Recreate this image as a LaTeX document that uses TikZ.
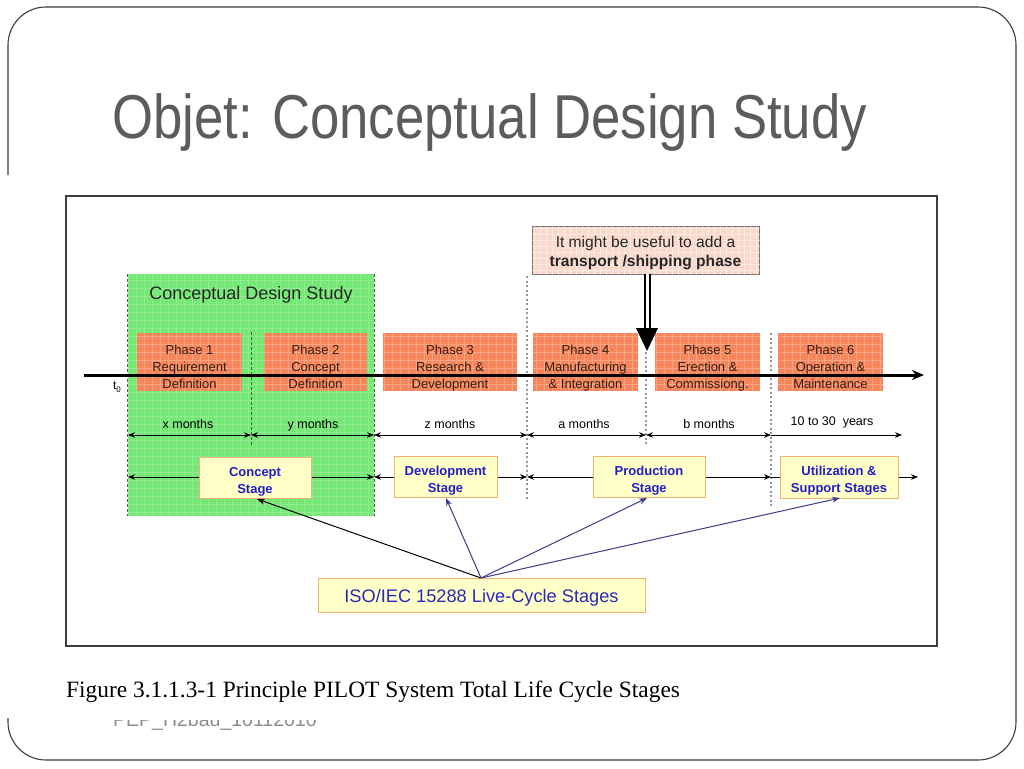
\documentclass[tikz,border=0pt]{standalone}
\usepackage{fontspec}
\setmainfont{Liberation Sans}
\newfontfamily\seriffont{Liberation Serif}
\usetikzlibrary{arrows.meta}
\definecolor{framecol}{RGB}{60,60,60}
\definecolor{titlegray}{RGB}{92,92,92}
\definecolor{footgray}{RGB}{140,140,140}
\definecolor{cdsgreen}{RGB}{118,232,118}
\definecolor{greendash}{RGB}{80,100,60}
\definecolor{phaseorange}{RGB}{247,134,92}
\definecolor{phasetext}{RGB}{50,30,20}
\definecolor{yel}{RGB}{255,255,200}
\definecolor{yelborder}{RGB}{245,175,110}
\definecolor{pinkbox}{RGB}{250,216,204}
\definecolor{pinkborder}{RGB}{120,110,110}
\definecolor{stageblue}{RGB}{35,30,200}
\definecolor{isoblue}{RGB}{40,40,190}
\definecolor{isoarrow}{RGB}{60,60,140}
\definecolor{dotgray}{RGB}{150,150,150}
\tikzset{
  phasebox/.style={fill=phaseorange, draw=none, minimum width=#1, minimum height=58pt, inner sep=0pt},
  phaselbl/.style={align=center, inner sep=0pt, anchor=base, font=\fontsize{13}{17}\selectfont, text=phasetext},
  stagebox/.style={fill=yel, draw=yelborder, line width=1pt, minimum width=#1, minimum height=41pt, inner sep=0pt},
  stagelbl/.style={align=center, inner sep=0pt, anchor=base, font=\bfseries\fontsize{13}{17}\selectfont, text=stageblue},
  monthlbl/.style={font=\fontsize{12.5}{15}\selectfont, inner sep=0pt, anchor=base},
  dimarrow/.style={{Stealth[length=7pt,width=5.5pt]}-{Stealth[length=7pt,width=5.5pt]}, line width=0.9pt},
  onearrow/.style={-{Stealth[length=7pt,width=5.5pt]}, line width=0.9pt},
  gridw/.style={white, opacity=0.2, line width=0.5pt},
  dotline/.style={dotgray, line width=1.3pt, dash pattern=on 2pt off 2.5pt},
  darkdash/.style={greendash, line width=1pt, dash pattern=on 3pt off 2pt},
  isoline/.style={-{Stealth[length=8pt,width=6pt]}, line width=1pt, isoarrow},
}
\begin{document}
\begin{tikzpicture}[x=1pt,y=-1pt]
\useasboundingbox (0,0) rectangle (1024,768);
\fill[white] (0,0) rectangle (1024,768);
% slide frame
\draw[framecol, line width=1.1pt, rounded corners=38pt] (8,175) -- (8,7) -- (1016,7) -- (1016,760) -- (8,760) -- (8,718);
% title
\node[anchor=base west, inner sep=0pt, text=titlegray, font=\fontsize{62}{70}\selectfont] (title) at (112,138)
  {\scalebox{0.85}[1]{Objet: Conceptual Design Study}};
% footer (partly hidden by the figure)
\node[anchor=base west, inner sep=0pt, text=footgray, font=\fontsize{19.5}{22}\selectfont] (foot) at (113,726.5) {PEP\_H2bau\_10112010};
\fill[white] (40,180) rectangle (1000,719.5);
% caption
\node[anchor=base west, inner sep=0pt, font=\seriffont\fontsize{23.4}{26}\selectfont] (cap) at (66,697)
  {Figure 3.1.1.3-1 Principle PILOT System Total Life Cycle Stages};
% figure border
\node[draw=framecol, line width=1.6pt, minimum width=871pt, minimum height=450pt, inner sep=0pt] (fig) at (501.5,421) {};
% green region
\node[fill=cdsgreen, minimum width=246pt, minimum height=242pt, inner sep=0pt] (cds) at (251,395) {};
\draw[gridw] (cds.north west) grid[step=8pt] (cds.south east);
\draw[darkdash] (cds.north west) -- (cds.south west);
\draw[darkdash] (cds.north east) -- (cds.south east);
\node[anchor=base, inner sep=0pt, font=\fontsize{18}{20}\selectfont, text=black!85] (cdslbl) at (251,299) {Conceptual Design Study};
% vertical separators
\coordinate (v1a) at (251,332); \coordinate (v1b) at (251,445);
\coordinate (v3a) at (527,276); \coordinate (v3b) at (527,500);
\coordinate (v4a) at (646,352); \coordinate (v4b) at (646,445);
\coordinate (v5a) at (771,333); \coordinate (v5b) at (771,507);
\draw[darkdash] (v1a) -- (v1b);
\draw[dotline] (v3a) -- (v3b);
\draw[dotline] (v4a) -- (v4b);
\draw[dotline] (v5a) -- (v5b);
% phases
\node[phasebox=105pt] (p1) at (189.5,362) {};
\node[phasebox=103pt] (p2) at (315.5,362) {};
\node[phasebox=134pt] (p3) at (450,362) {};
\node[phasebox=105pt] (p4) at (585.5,362) {};
\node[phasebox=105pt] (p5) at (707.5,362) {};
\node[phasebox=105pt] (p6) at (830.5,362) {};
\foreach \n in {p1,p2,p3,p4,p5,p6} {\draw[gridw, opacity=0.25] (\n.north west) grid[step=8pt] (\n.south east);}
\node[phaselbl] (p1t) at (189.5,388.5) {Phase 1\\Requirement\\Definition};
\node[phaselbl] (p2t) at (315.5,388.5) {Phase 2\\Concept\\Definition};
\node[phaselbl] (p3t) at (450,388.5) {Phase 3\\Research \&\\Development};
\node[phaselbl] (p4t) at (585.5,388.5) {Phase 4\\Manufacturing\\\& Integration};
\node[phaselbl] (p5t) at (707.5,388.5) {Phase 5\\Erection \&\\Commissiong.};
\node[phaselbl] (p6t) at (830.5,388.5) {Phase 6\\Operation \&\\Maintenance};
% time axis
\coordinate (ax0) at (84,375); \coordinate (ax1) at (924,375);
\draw[line width=3pt, -{Stealth[length=12pt,width=10pt]}] (ax0) -- (ax1);
\node[font=\fontsize{12}{14}\selectfont] (t0) at (117,387) {t\raisebox{-2.5pt}{\fontsize{8}{9}\selectfont 0}};
% durations
\coordinate (d0) at (128,435); \coordinate (d1) at (251,435); \coordinate (d2) at (374,435);
\coordinate (d3) at (527,435); \coordinate (d4) at (646,435); \coordinate (d5) at (771,435);
\coordinate (d6) at (902,435);
\draw[dimarrow] (d0) -- (d1);
\draw[dimarrow] (d1) -- (d2);
\draw[dimarrow] (d2) -- (d3);
\draw[dimarrow] (d3) -- (d4);
\draw[dimarrow] (d4) -- (d5);
\draw[onearrow] (d5) -- (d6);
\node[monthlbl] (mx) at (188,428.5) {x months};
\node[monthlbl] (my) at (313,428.5) {y months};
\node[monthlbl] (mz) at (450,428.5) {z months};
\node[monthlbl] (ma) at (584,428.5) {a months};
\node[monthlbl] (mb) at (709,428.5) {b months};
\node[monthlbl] (myr) at (832,425.5) {10 to 30\ \ years};
% stages
\coordinate (s0) at (128,477); \coordinate (s2) at (374,477); \coordinate (s3) at (527,477);
\coordinate (s5) at (771,477); \coordinate (s6) at (918,477);
\draw[dimarrow] (s0) -- (s2);
\draw[dimarrow] (s2) -- (s3);
\draw[dimarrow] (s3) -- (s5);
\draw[onearrow] (s5) -- (s6);
\node[stagebox=112pt] (cs) at (255,478) {};
\node[stagebox=103pt] (ds) at (445.5,476.5) {};
\node[stagebox=112pt] (ps) at (649,476.5) {};
\node[stagebox=118pt, minimum height=42pt] (us) at (839,477) {};
\node[stagelbl] (cst) at (255,493) {Concept\\Stage};
\node[stagelbl] (dst) at (445.5,492) {Development\\Stage};
\node[stagelbl] (pst) at (649,492) {Production\\Stage};
\node[stagelbl] (ust) at (839,492) {Utilization \&\\Support Stages};
% ISO box
\node[fill=yel, draw=yelborder, line width=1pt, minimum width=327pt, minimum height=34pt, inner sep=0pt] (iso) at (481.5,595) {};
\node[anchor=base, inner sep=0pt, font=\fontsize{18.2}{20}\selectfont, text=isoblue] (isot) at (481.5,602) {ISO/IEC 15288 Live-Cycle Stages};
\coordinate (isotop) at (481,578);
\draw[-{Stealth[length=8pt,width=6pt]}, line width=1pt, black] (isotop) -- (257,499);
\draw[isoline] (isotop) -- (446,498);
\draw[isoline] (isotop) -- (647,498);
\draw[isoline] (isotop) -- (840,498);
% callout
\node[fill=pinkbox, draw=pinkborder, line width=1pt, minimum width=227pt, minimum height=48pt, inner sep=0pt] (call) at (645.5,250) {};
\draw[gridw, opacity=0.45] (call.north west) grid[step=6pt] (call.south east);
\node[align=center, inner sep=0pt, anchor=base, font=\fontsize{15.6}{19}\selectfont, text=black!85] (callt) at (645.5,266.5)
  {It might be useful to add a\\\textbf{transport /shipping phase}};
\coordinate (bigtop) at (647,274); \coordinate (bigmid) at (647,329); \coordinate (bigtip) at (647,351);
\draw[line width=2pt, double=white, double distance=3pt] (bigtop) -- (bigmid);
\fill[black] (636,328) -- (658,328) -- (bigtip) -- cycle;
\end{tikzpicture}
\end{document}
